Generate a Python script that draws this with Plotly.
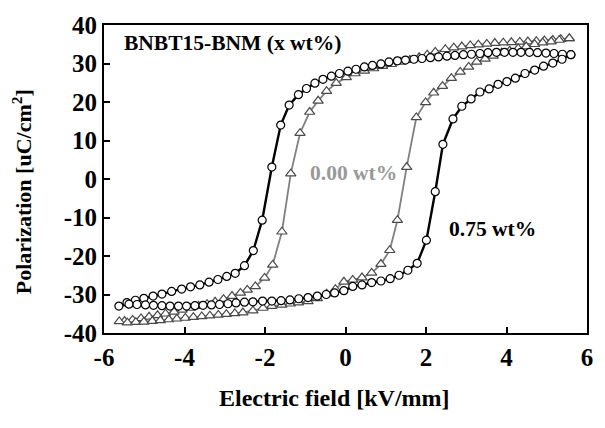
import plotly.graph_objects as go

# 0.75 wt% loop (circles): upper branch (E decreasing) then lower branch (E increasing)
e_075 = [5.60, 5.39, 5.18, 4.98, 4.77, 4.57, 4.36, 4.16, 3.95, 3.75, 3.54, 3.34, 3.13, 2.93, 2.72,
         2.52, 2.31, 2.11, 1.90, 1.70, 1.49, 1.29, 1.08, 0.88, 0.67, 0.47, 0.26, 0.06, -0.15, -0.35,
         -0.56, -0.76, -0.97, -1.17, -1.40, -1.61, -1.83, -2.07, -2.29, -2.51, -2.74, -2.95, -3.17,
         -3.39, -3.62, -3.85, -4.07, -4.32, -4.56, -4.78, -5.01, -5.22, -5.43, -5.63,
         -5.38, -5.18, -4.97, -4.77, -4.56, -4.36, -4.15, -3.95, -3.74, -3.54, -3.33, -3.13, -2.92,
         -2.72, -2.51, -2.30, -2.06, -1.83, -1.60, -1.38, -1.16, -0.93, -0.70, -0.48, -0.27, -0.04,
         0.18, 0.41, 0.65, 0.88, 1.11, 1.33, 1.55, 1.78, 2.01, 2.23, 2.42, 2.67, 2.89, 3.12, 3.34,
         3.57, 3.79, 4.01, 4.22, 4.46, 4.70, 4.92, 5.15, 5.38, 5.60]
p_075 = [32.3, 32.4, 32.6, 32.7, 32.8, 32.9, 32.9, 32.9, 32.9, 32.9, 32.8, 32.6, 32.4, 32.3, 32.1,
         31.9, 31.7, 31.5, 31.3, 31.1, 30.9, 30.7, 30.4, 29.9, 29.5, 29.1, 28.5, 28.0, 27.4, 26.7,
         25.9, 24.9, 23.5, 21.9, 19.2, 14.0, 3.1, -10.7, -18.6, -22.5, -24.5, -25.3, -26.1,
         -26.8, -27.5, -28.0, -28.6, -29.2, -29.9, -30.4, -31.0, -31.5, -32.1, -33.0,
         -32.5, -32.6, -32.7, -32.8, -32.9, -33.0, -33.0, -33.0, -32.9, -32.8, -32.7, -32.6, -32.4,
         -32.2, -32.0, -31.9, -31.7, -31.7, -31.6, -31.4, -31.1, -30.8, -30.4, -30.0, -29.6, -29.0,
         -27.9, -27.5, -26.9, -26.5, -25.9, -25.0, -23.7, -21.9, -15.9, -3.3, 9.0, 15.6, 18.9, 20.8, 22.6,
         23.4, 24.6, 25.3, 26.2, 27.4, 28.3, 29.3, 30.1, 31.1, 32.3]

# 0.00 wt% loop (triangles)
e_000 = [5.56, 5.35, 5.15, 4.94, 4.74, 4.53, 4.33, 4.12, 3.92, 3.71, 3.51, 3.30, 3.10, 2.89, 2.69,
         2.48, 2.23, 2.03, 1.83, 1.60, 1.37, 1.14, 0.92, 0.70, 0.47, 0.24, 0.02, -0.23, -0.47, -0.68,
         -0.89, -1.13, -1.36, -1.58, -1.81, -2.01, -2.24, -2.44, -2.61, -2.82, -3.03, -3.24, -3.44,
         -3.65, -3.85, -4.06, -4.26, -4.47, -4.67, -4.88, -5.08, -5.29, -5.49, -5.62,
         -5.42, -5.21, -5.01, -4.80, -4.60, -4.39, -4.19, -3.98, -3.78, -3.57, -3.37, -3.16, -2.96,
         -2.75, -2.55, -2.30, -2.05, -1.83, -1.58, -1.37, -1.17, -0.93, -0.70, -0.47, -0.25, -0.04,
         0.18, 0.41, 0.65, 0.88, 1.10, 1.29, 1.52, 1.76, 1.99, 2.19, 2.41, 2.63, 2.85, 3.06, 3.26,
         3.47, 3.67, 3.88, 4.08, 4.29, 4.49, 4.70, 4.90, 5.11, 5.31, 5.56]
p_000 = [36.5, 36.3, 36.1, 36.0, 35.8, 35.7, 35.6, 35.5, 35.4, 35.3, 35.1, 34.9, 34.7, 34.4, 34.1,
         33.7, 33.0, 32.3, 31.6, 30.9, 30.4, 29.8, 29.3, 28.7, 28.1, 27.4, 26.4, 24.9, 22.8, 20.3,
         17.4, 11.9, 1.4, -13.7, -22.3, -25.7, -27.9, -28.8, -29.6, -30.4, -31.2, -31.9, -32.5,
         -33.0, -33.5, -34.0, -34.5, -35.0, -35.4, -35.8, -36.2, -36.6, -36.9, -37.0,
         -37.3, -37.2, -37.1, -36.9, -36.7, -36.5, -36.3, -36.1, -35.9, -35.7, -35.5, -35.3, -35.1,
         -34.9, -34.7, -34.2, -33.5, -33.0, -32.7, -32.4, -32.1, -31.8, -31.0, -29.8, -28.6, -26.7,
         -26.2, -25.6, -24.4, -22.1, -18.5, -10.7, 3.1, 16.0, 19.9, 22.4, 24.1, 26.2, 27.8, 29.1, 30.4,
         31.2, 32.0, 32.8, 33.3, 33.9, 34.4, 35.0, 35.4, 35.7, 36.1, 36.5]

x_ticks = [-6, -4, -2, 0, 2, 4, 6]
y_ticks = [-40, -30, -20, -10, 0, 10, 20, 30, 40]

FONT = "Liberation Serif, Times New Roman, serif"

fig = go.Figure()
fig.add_trace(go.Scatter(
    x=e_000, y=p_000, mode="lines+markers", name="0.00 wt%",
    line=dict(color="#808080", width=1.8),
    marker=dict(symbol="triangle-up", size=9, color="white",
                line=dict(color="#4a4a4a", width=1.2)),
))
fig.add_trace(go.Scatter(
    x=e_075, y=p_075, mode="lines+markers", name="0.75 wt%",
    line=dict(color="black", width=2.4),
    marker=dict(symbol="circle", size=8, color="white",
                line=dict(color="black", width=1.2)),
))

fig.add_annotation(x=-5.55, y=35.3, xref="x", yref="y", text="<b>BNBT15-BNM (x wt%)</b>",
                   showarrow=False, xanchor="left", yanchor="middle",
                   font=dict(family=FONT, size=21.5, color="black"))
fig.add_annotation(x=-0.92, y=1.5, xref="x", yref="y", text="<b>0.00 wt%</b>",
                   showarrow=False, xanchor="left", yanchor="middle",
                   font=dict(family=FONT, size=21.5, color="#999999"))
fig.add_annotation(x=2.53, y=-13.0, xref="x", yref="y", text="<b>0.75 wt%</b>",
                   showarrow=False, xanchor="left", yanchor="middle",
                   font=dict(family=FONT, size=21.5, color="black"))

# axis titles
fig.add_annotation(x=(336 - 104) / 487, y=-(400 - 333) / 318, xref="paper", yref="paper",
                   text="<b>Electric field [kV/mm]</b>", showarrow=False,
                   xanchor="center", yanchor="middle",
                   font=dict(family=FONT, size=24, color="black"))
fig.add_annotation(x=-(104 - 21) / 487, y=(333 - 187) / 318, xref="paper", yref="paper",
                   text="<b>Polarization [uC/cm<sup>2</sup>]</b>", showarrow=False, textangle=-90,
                   xanchor="center", yanchor="middle",
                   font=dict(family=FONT, size=22, color="black"))

fig.update_layout(
    width=605, height=428,
    margin=dict(l=104, r=14, t=15, b=95),
    paper_bgcolor="white", plot_bgcolor="white",
    showlegend=False,
    font=dict(family=FONT, size=24, color="black"),
)
fig.update_xaxes(
    range=[-6, 6], tickvals=x_ticks, ticktext=[str(v) for v in x_ticks],
    showgrid=False, zeroline=False,
    showline=True, linecolor="black", linewidth=2, mirror=True,
    ticks="inside", ticklen=6, tickwidth=2, tickcolor="black",
    tickfont=dict(family=FONT, size=25, color="black", weight="bold"),
    ticklabelstandoff=1,
)
fig.update_yaxes(
    range=[-40, 40], tickvals=y_ticks, ticktext=[str(v) for v in y_ticks],
    showgrid=False, zeroline=False,
    showline=True, linecolor="black", linewidth=2, mirror=True,
    ticks="inside", ticklen=6, tickwidth=2, tickcolor="black",
    tickfont=dict(family=FONT, size=25, color="black", weight="bold"),
    ticklabelstandoff=0,
)

fig.write_html("out.html")
